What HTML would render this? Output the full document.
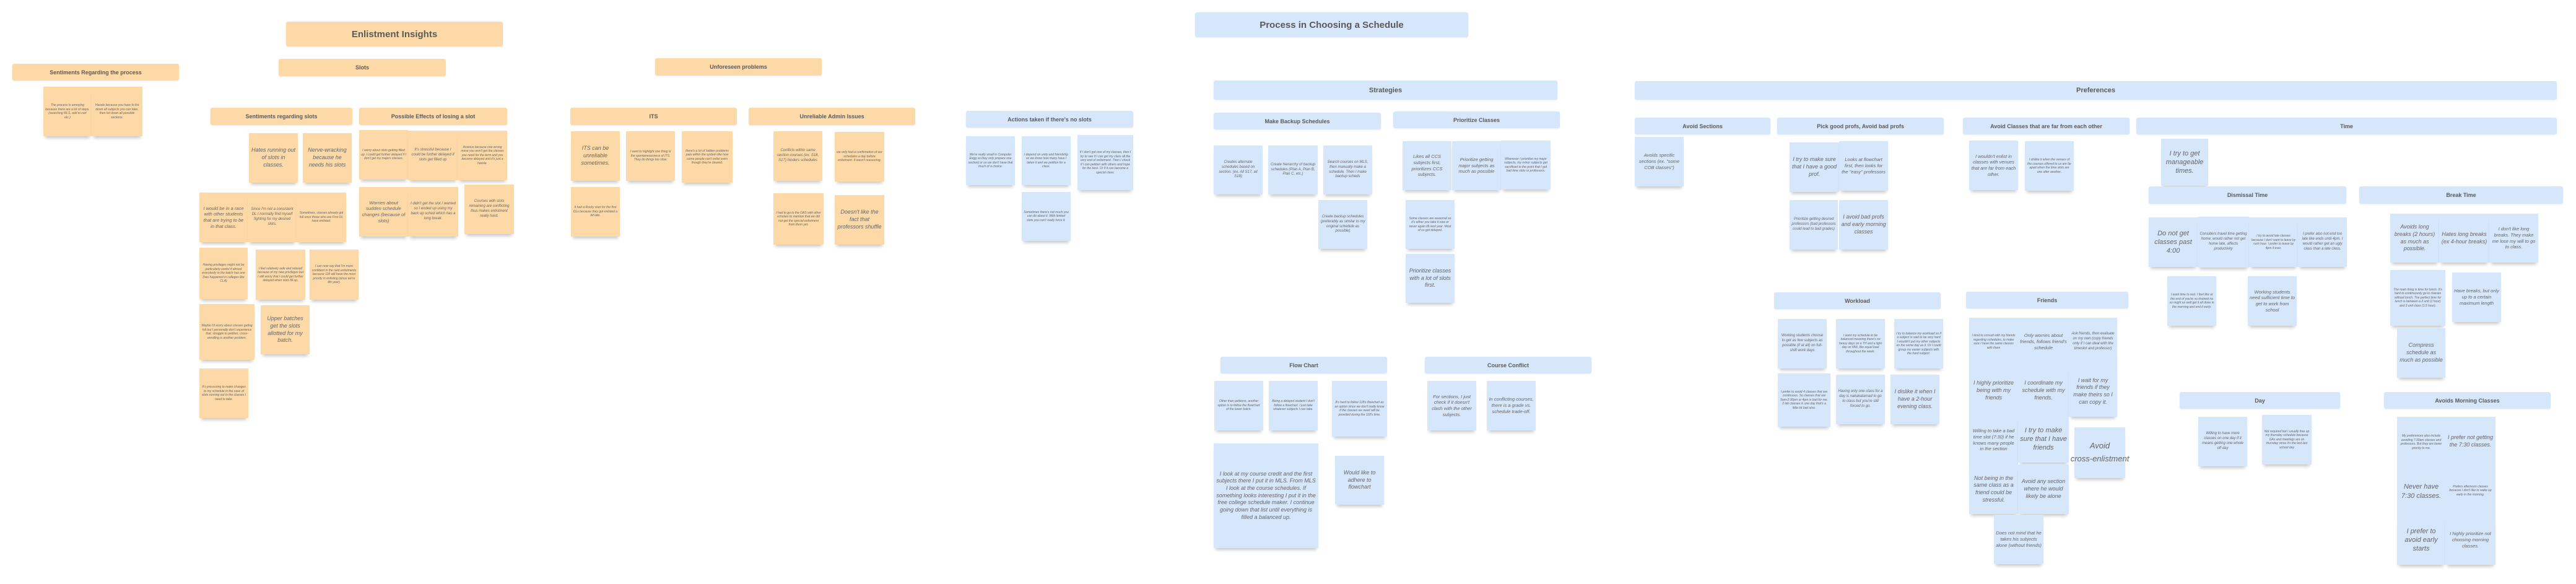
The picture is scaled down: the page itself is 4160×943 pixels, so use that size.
<!DOCTYPE html>
<html><head><meta charset="utf-8"><style>
body{margin:0;width:4160px;height:943px;background:#fff;position:relative;overflow:hidden;font-family:"Liberation Sans",sans-serif}
.n{position:absolute;display:flex;align-items:center;justify-content:center;text-align:center;font-style:italic;color:#666;box-shadow:0 6px 5px -3px rgba(0,0,0,.22);padding:3px;box-sizing:border-box;line-height:1.3}
.h{position:absolute;display:flex;align-items:center;justify-content:center;text-align:center;font-weight:bold;color:#5a5a5a;border-radius:3px;font-size:9px;box-shadow:0 1px 2px rgba(0,0,0,.08)}
.o{background:#fdd9a8}.b{background:#d6e6fb}
.f5{font-size:5px}.f6{font-size:6px}.f7{font-size:7.5px}.f9{font-size:9px}.f11{font-size:11px}
.t{font-size:15px}
</style></head><body>
<!-- Enlistment Insights -->
<div class="h o t" style="left:462px;top:35px;width:350px;height:40px">Enlistment Insights</div>
<div class="h o" style="left:20px;top:103px;width:269px;height:27px">Sentiments Regarding the process</div>
<div class="h o" style="left:450px;top:95px;width:270px;height:28px">Slots</div>
<div class="h o" style="left:1058px;top:94px;width:269px;height:28px">Unforeseen problems</div>
<div class="n o f5" style="left:70px;top:140px;width:78px;height:80px">The process is annoying because there are a lot of steps. (searching MLS, add to cart etc.)</div>
<div class="n o f5" style="left:148px;top:140px;width:82px;height:80px">Hassle because you have to list down all subjects you can take, then list down all possible sections.</div>
<div class="h o" style="left:340px;top:174px;width:229px;height:28px">Sentiments regarding slots</div>
<div class="h o" style="left:580px;top:174px;width:239px;height:28px">Possible Effects of losing a slot</div>
<div class="h o" style="left:921px;top:174px;width:269px;height:28px">ITS</div>
<div class="h o" style="left:1209px;top:174px;width:269px;height:28px">Unreliable Admin Issues</div>
<div class="n o f9" style="left:402px;top:215px;width:79px;height:80px">Hates running out of slots in classes.</div>
<div class="n o f9" style="left:489px;top:215px;width:79px;height:80px">Nerve-wracking because he needs his slots</div>
<div class="n o f5" style="left:580px;top:210px;width:79px;height:80px">I worry about slots getting filled up. I could get further delayed if I don't get my majors classes.</div>
<div class="n o f6" style="left:659px;top:211px;width:80px;height:80px">It's stressful because I could be further delayed if slots get filled up</div>
<div class="n o f5" style="left:739px;top:211px;width:80px;height:80px">Anxious because one wrong move you won't get the classes you need for the term and you become delayed and it's just a hassle.</div>
<div class="n o f7" style="left:322px;top:311px;width:78px;height:80px">I would be in a race with other students that are trying to be in that class.</div>
<div class="n o f6" style="left:400px;top:311px;width:79px;height:80px">Since I'm not a consistent DL I normally find myself fighting for my desired slots.</div>
<div class="n o f5" style="left:479px;top:311px;width:80px;height:80px">Sometimes, classes already got full once those who are First DL have enlisted.</div>
<div class="n o f7" style="left:580px;top:302px;width:79px;height:80px">Worries about sudden schedule changes (because of slots)</div>
<div class="n o f6" style="left:659px;top:302px;width:81px;height:80px">I didn't get the slot I wanted so I ended up using my back up sched which has a long break.</div>
<div class="n o f6" style="left:750px;top:298px;width:80px;height:80px">Courses with slots remaining are conflicting thus makes enlistment really hard.</div>
<div class="n o f9" style="left:922px;top:212px;width:79px;height:80px">ITS can be unreliable sometimes.</div>
<div class="n o f5" style="left:1011px;top:212px;width:79px;height:80px">I want to highlight one thing is the spontaneousness of ITS. They do things too slow.</div>
<div class="n o f5" style="left:1101px;top:212px;width:82px;height:83px">there's a lot of hidden problems pala within the system like how come people can't enlist even though they're cleared.</div>
<div class="n o f5" style="left:922px;top:302px;width:79px;height:80px">It had a Rocky start for the first DLs because they got enlisted a bit late.</div>
<div class="n o f6" style="left:1249px;top:212px;width:79px;height:80px">Conflicts within same section courses (ex. S18, S17) hinders schedules</div>
<div class="n o f5" style="left:1348px;top:213px;width:80px;height:80px">we only had a confirmation of our schedules a day before enlistment. It wasn't reassuring.</div>
<div class="n o f5" style="left:1249px;top:312px;width:81px;height:83px">I had to go to the OAS with other scholars to mention that we did not get the special enlistment from them yet.</div>
<div class="n o f9" style="left:1348px;top:315px;width:80px;height:80px">Doesn't like the fact that professors shuffle</div>
<div class="n o f5" style="left:322px;top:400px;width:78px;height:83px">Having privileges might not be particularly useful if almost everybody in the batch has one (has happened in colleges like CLA)</div>
<div class="n o f5" style="left:413px;top:403px;width:80px;height:81px">I feel relatively safe and relaxed because of my new privileges but I still worry that I could get further delayed when slots fill up.</div>
<div class="n o f5" style="left:500px;top:403px;width:79px;height:81px">I can now say that I'm more confident in the next enlistments because 118 will have the most priority in enlisting (since we're 4th year).</div>
<div class="n o f5" style="left:322px;top:491px;width:89px;height:90px">Maybe I'd worry about classes geting full but I personally don't experience that. struggle to petition, cross-enrolling is another problem.</div>
<div class="n o f9" style="left:421px;top:493px;width:79px;height:79px">Upper batches get the slots allotted for my batch.</div>
<div class="n o f5" style="left:322px;top:595px;width:79px;height:80px">It's pressuring to make changes to my schedule in the case of slots running out in the classes I need to take.</div>

<!-- Process in Choosing a Schedule -->
<div class="h b t" style="left:1930px;top:20px;width:441px;height:40px">Process in Choosing a Schedule</div>
<div class="h b" style="left:1960px;top:130px;width:555px;height:31px;font-size:11px">Strategies</div>
<div class="h b" style="left:1560px;top:179px;width:270px;height:27px">Actions taken if there's no slots</div>
<div class="n b f5" style="left:1560px;top:220px;width:79px;height:79px">We're really small in Computer Engg so they only prepare one section) or us we don't have that much of a choice.</div>
<div class="n b f5" style="left:1650px;top:220px;width:79px;height:79px">I depend on unity and friendship so we know how many have I taken it and we petition for a class.</div>
<div class="n b f5" style="left:1740px;top:218px;width:90px;height:89px">If I don't get one of my classes, then I try to see if I can get my class all the very end of enlistment. Then I check if I can petition with others and hope for the best. Or if it can become a special class.</div>
<div class="n b f5" style="left:1650px;top:310px;width:79px;height:79px">Sometimes there's not much you can do about it. With limited slots you can't really force it.</div>
<div class="h b" style="left:1960px;top:182px;width:270px;height:27px">Make Backup Schedules</div>
<div class="h b" style="left:2250px;top:180px;width:269px;height:27px">Prioritize Classes</div>
<div class="n b f6" style="left:1960px;top:235px;width:79px;height:79px">Creates alternate schedules based on section. (ex. All S17, all S18)</div>
<div class="n b f6" style="left:2048px;top:235px;width:80px;height:79px">Create hierarchy of backup schedules (Plan A, Plan B, Plan C, etc.)</div>
<div class="n b f6" style="left:2137px;top:235px;width:79px;height:79px">Search courses on MLS, then manually make a schedule. Then I make backup scheds</div>
<div class="n b f6" style="left:2129px;top:323px;width:79px;height:79px">Create backup schedules (preferably as similar to my original schedule as possible)</div>
<div class="n b f7" style="left:2265px;top:228px;width:79px;height:79px">Likes all CCS subjects first, prioritizes CCS subjects.</div>
<div class="n b f7" style="left:2345px;top:228px;width:79px;height:79px">Prioritize getting major subjects as much as possible</div>
<div class="n b f5" style="left:2424px;top:227px;width:80px;height:79px">Whenever I prioritize my major subjects, my minor subjects get sacrificed to the point that I got bad time slots or professors.</div>
<div class="n b f5" style="left:2270px;top:323px;width:79px;height:79px">Some classes are seasonal so it's either you take it now or never again till next year. Most of us got delayed.</div>
<div class="n b f9" style="left:2270px;top:410px;width:79px;height:79px">Prioritize classes with a lot of slots first.</div>
<div class="h b" style="left:1971px;top:576px;width:269px;height:27px">Flow Chart</div>
<div class="h b" style="left:2301px;top:576px;width:269px;height:27px">Course Conflict</div>
<div class="n b f5" style="left:1961px;top:615px;width:79px;height:80px">Other than petitions, another option is to follow the flowchart of the lower batch.</div>
<div class="n b f5" style="left:2049px;top:615px;width:79px;height:80px">Being a delayed student I don't follow a flowchart. I just take whatever subjects I can take.</div>
<div class="n b f5" style="left:2151px;top:615px;width:89px;height:90px">It's hard to follow 118's flowchart as an option since we don't really know if the classes we need will be provided during the 118's time.</div>
<div class="n b f7" style="left:2305px;top:615px;width:79px;height:80px">For sections, I just check if it doesn't clash with the other subjects.</div>
<div class="n b f7" style="left:2401px;top:615px;width:79px;height:80px">In conflicting courses, there is a grade vs. schedule trade-off.</div>
<div class="n b f9" style="left:1960px;top:716px;width:169px;height:169px">I look at my course credit and the first subjects there I put it in MLS. From MLS I look at the course schedules. If something looks interesting I put it in the free college schedule maker. I continue going down that list until everything is filled a balanced up.</div>
<div class="n b f9" style="left:2156px;top:736px;width:79px;height:79px">Would like to adhere to flowchart</div>

<!-- Preferences -->
<div class="h b" style="left:2640px;top:131px;width:1489px;height:30px;font-size:11px">Preferences</div>
<div class="h b" style="left:2640px;top:190px;width:219px;height:27px">Avoid Sections</div>
<div class="h b" style="left:2870px;top:190px;width:269px;height:27px">Pick good profs, Avoid bad profs</div>
<div class="h b" style="left:3170px;top:190px;width:269px;height:27px">Avoid Classes that are far from each other</div>
<div class="h b" style="left:3450px;top:190px;width:679px;height:27px">Time</div>
<div class="n b f7" style="left:2640px;top:221px;width:79px;height:80px">Avoids specific sections (ex. "some COB classes")</div>
<div class="n b f9" style="left:2890px;top:230px;width:80px;height:80px">I try to make sure that I have a good prof.</div>
<div class="n b f7" style="left:2970px;top:228px;width:79px;height:80px">Looks at flowchart first, then looks for the "easy" professors</div>
<div class="n b f6" style="left:2890px;top:323px;width:78px;height:80px">Prioritize getting desired professors (bad professors could lead to bad grades)</div>
<div class="n b f9" style="left:2970px;top:323px;width:79px;height:80px">I avoid bad profs and early morning classes</div>
<div class="n b f7" style="left:3180px;top:227px;width:79px;height:80px">I wouldn't enlist in classes with venues that are far from each other.</div>
<div class="n b f5" style="left:3270px;top:228px;width:79px;height:80px">I dislike it when the venues of the courses offered to us are far apart when the time slots are one after another.</div>
<div class="n b f11" style="left:3490px;top:224px;width:76px;height:76px">I try to get manageable times.</div>
<div class="h b" style="left:3470px;top:301px;width:319px;height:28px">Dismissal Time</div>
<div class="h b" style="left:3810px;top:301px;width:329px;height:28px">Break Time</div>
<div class="n b f11" style="left:3470px;top:351px;width:79px;height:80px">Do not get classes past 4:00</div>
<div class="n b f6" style="left:3549px;top:350px;width:83px;height:82px">Considers travel time getting home; would rather not get home late, affects productivity</div>
<div class="n b f5" style="left:3632px;top:351px;width:79px;height:80px">I try to avoid late classes because I don't want to leave by rush hour. I prefer to leave by 4pm if ever.</div>
<div class="n b f6" style="left:3711px;top:351px;width:79px;height:80px">I prefer also not end too late like ends until 4pm. I would rather get an ugly class than a late class.</div>
<div class="n b f5" style="left:3500px;top:446px;width:79px;height:80px">I want time to rest. I feel like at the end of you're so drained na so might as well get it all done in the morning and end it early.</div>
<div class="n b f7" style="left:3630px;top:446px;width:79px;height:80px">Working students need sufficient time to get to work from school</div>
<div class="n b f9" style="left:3860px;top:345px;width:79px;height:79px">Avoids long breaks (2 hours) as much as possible.</div>
<div class="n b f9" style="left:3939px;top:345px;width:81px;height:79px">Hates long breaks (ex 4-hour breaks)</div>
<div class="n b f7" style="left:4020px;top:345px;width:79px;height:79px">I don't like long breaks. They make me lose my will to go to class.</div>
<div class="n b f5" style="left:3860px;top:436px;width:89px;height:90px">The main thing is time for lunch. It's hard to continuously go to classes without lunch. The perfect time for lunch is between a 2 unit (1 hour) and 3 unit class (1.5 hour).</div>
<div class="n b f7" style="left:3960px;top:440px;width:79px;height:80px">Have breaks, but only up to a certain maximum length</div>
<div class="n b f9" style="left:3871px;top:530px;width:78px;height:80px">Compress schedule as much as possible</div>
<div class="h b" style="left:2865px;top:472px;width:269px;height:27px">Workload</div>
<div class="h b" style="left:3175px;top:471px;width:262px;height:27px">Friends</div>
<div class="n b f6" style="left:2871px;top:515px;width:79px;height:80px">Working students choose to get as few subjects as possible (if at all) on full-shift work days</div>
<div class="n b f5" style="left:2965px;top:515px;width:79px;height:80px">I want my schedule to be balanced meaning there's no heavy days on a TH and a light day on MW, like equal load throughout the week.</div>
<div class="n b f5" style="left:3059px;top:515px;width:79px;height:80px">I try to balance my workload so if a subject is said to be very hard I wouldn't put my other subjects on the same day as it. Or I could group my easier subjects with the hard subject.</div>
<div class="n b f5" style="left:2871px;top:603px;width:85px;height:86px">I prefer to avoid 4 classes that are continuous. So classes that are 9am-2:30pm or 4pm is bad for me. 2 lab classes in one day that's a little bit bad also.</div>
<div class="n b f6" style="left:2965px;top:605px;width:79px;height:80px">Having only one class for a day is nakakatamad to go to class but you're still forced to go.</div>
<div class="n b f9" style="left:3053px;top:605px;width:79px;height:80px">I dislike it when I have a 2-hour evening class.</div>
<div class="n b f9" style="left:3350px;top:690px;width:82px;height:82px;overflow:visible;white-space:nowrap;font-size:13px;line-height:1.6">Avoid<br>cross-enlistment</div>
<div class="n b f5" style="left:3180px;top:513px;width:79px;height:78px;box-shadow:none">I tend to consult with my friends regarding schedules, to make sure I have the same classes with them</div>
<div class="n b f7" style="left:3259px;top:513px;width:82px;height:78px;box-shadow:none">Only worries about friends, follows friend's schedule</div>
<div class="n b f6" style="left:3341px;top:513px;width:78px;height:78px;box-shadow:none">Ask friends, then evaluate on my own (copy friends only if I can deal with the timeslot and professor)</div>
<div class="n b f9" style="left:3180px;top:591px;width:79px;height:80px;box-shadow:none">I highly prioritize being with my friends</div>
<div class="n b f9" style="left:3259px;top:591px;width:82px;height:80px;box-shadow:none">I coordinate my schedule with my friends.</div>
<div class="n b f9" style="left:3341px;top:591px;width:78px;height:82px">I wait for my friends if they make theirs so I can copy it.</div>
<div class="n b f7" style="left:3180px;top:671px;width:79px;height:79px;box-shadow:none">Willing to take a bad time slot (7:30) if he knows many people in the section</div>
<div class="n b f11" style="left:3259px;top:671px;width:82px;height:76px">I try to make sure that I have friends</div>
<div class="n b f9" style="left:3180px;top:750px;width:79px;height:80px">Not being in the same class as a friend could be stressful.</div>
<div class="n b f9" style="left:3259px;top:750px;width:82px;height:80px">Avoid any section where he would likely be alone</div>
<div class="n b f7" style="left:3220px;top:831px;width:80px;height:80px">Does not mind that he takes his subjects alone (without friends)</div>
<div class="h b" style="left:3520px;top:633px;width:259px;height:27px">Day</div>
<div class="h b" style="left:3850px;top:633px;width:269px;height:27px">Avoids Morning Classes</div>
<div class="n b f6" style="left:3550px;top:673px;width:79px;height:80px">Willing to have more classes on one day if it means getting one whole off day</div>
<div class="n b f5" style="left:3653px;top:670px;width:80px;height:80px">Not required but I usually free up my thursday schedule because GAs and meetings are on thursday since it's the last last school day</div>
<div class="n b f5" style="left:3871px;top:673px;width:78px;height:82px;box-shadow:none">My preferences also include avoiding 7:30am classes and professors. But they are lower priority to me.</div>
<div class="n b f9" style="left:3949px;top:673px;width:81px;height:80px;box-shadow:none">I prefer not getting the 7:30 classes.</div>
<div class="n b f11" style="left:3871px;top:755px;width:78px;height:77px;box-shadow:none">Never have 7:30 classes.</div>
<div class="n b f5" style="left:3949px;top:753px;width:81px;height:79px;box-shadow:none">Prefers afternoon classes because I don't like to wake up early in the morning.</div>
<div class="n b f11" style="left:3871px;top:832px;width:78px;height:80px">I prefer to avoid early starts</div>
<div class="n b f7" style="left:3949px;top:832px;width:81px;height:80px">I highly prioritize not choosing morning classes.</div>
</body></html>
